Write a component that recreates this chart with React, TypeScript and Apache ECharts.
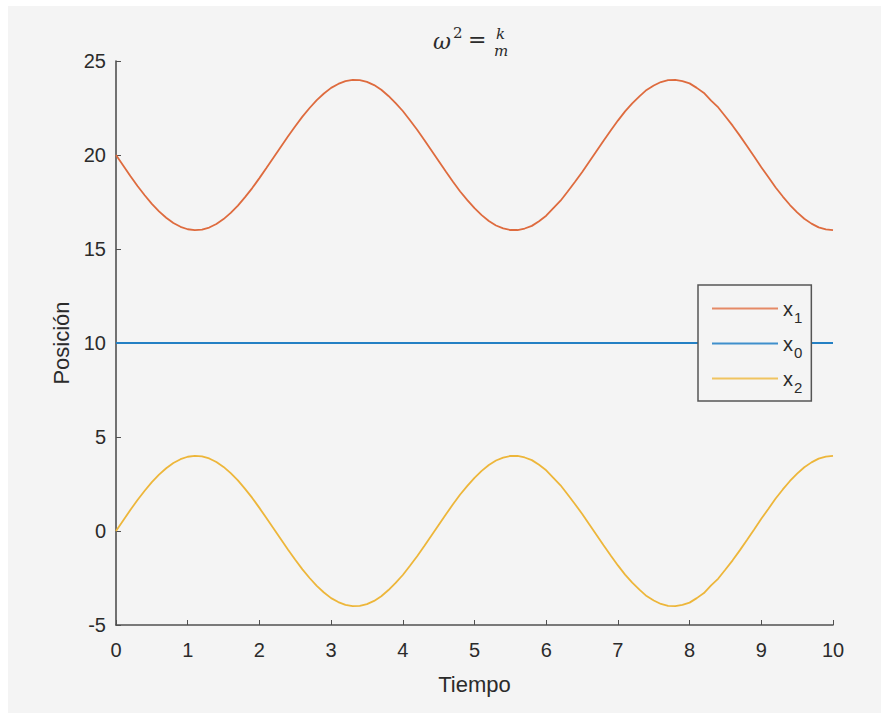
import React, { useEffect, useRef } from "react";
import * as echarts from "echarts";

const time = [
  0, 0.1, 0.2, 0.3, 0.4, 0.5, 0.6, 0.7, 0.8, 0.9,
  1.0, 1.1, 1.2, 1.3, 1.4, 1.5, 1.6, 1.7, 1.8, 1.9,
  2.0, 2.1, 2.2, 2.3, 2.4, 2.5, 2.6, 2.7, 2.8, 2.9,
  3.0, 3.1, 3.2, 3.3, 3.4, 3.5, 3.6, 3.7, 3.8, 3.9,
  4.0, 4.1, 4.2, 4.3, 4.4, 4.5, 4.6, 4.7, 4.8, 4.9,
  5.0, 5.1, 5.2, 5.3, 5.4, 5.5, 5.6, 5.7, 5.8, 5.9,
  6.0, 6.1, 6.2, 6.3, 6.4, 6.5, 6.6, 6.7, 6.8, 6.9,
  7.0, 7.1, 7.2, 7.3, 7.4, 7.5, 7.6, 7.7, 7.8, 7.9,
  8.0, 8.1, 8.2, 8.3, 8.4, 8.5, 8.6, 8.7, 8.8, 8.9,
  9.0, 9.1, 9.2, 9.3, 9.4, 9.5, 9.6, 9.7, 9.8, 9.9,
  10.0,
];

const x2Values = [
  0, 0.56, 1.12, 1.65, 2.14, 2.6, 3.0, 3.34, 3.62, 3.82,
  3.95, 4.0, 3.97, 3.86, 3.67, 3.41, 3.08, 2.69, 2.24, 1.76,
  1.23, 0.68, 0.12, -0.44, -1.0, -1.53, -2.04, -2.5, -2.92, -3.27,
  -3.57, -3.78, -3.93, -4.0, -3.98, -3.89, -3.72, -3.47, -3.14, -2.76,
  -2.34, -1.85, -1.34, -0.8, -0.24, 0.32, 0.88, 1.42, 1.94, 2.4,
  2.83, 3.2, 3.51, 3.75, 3.9, 3.99, 3.99, 3.91, 3.77, 3.52,
  3.23, 2.83, 2.43, 1.94, 1.44, 0.92, 0.36, -0.2, -0.76, -1.3,
  -1.83, -2.32, -2.75, -3.12, -3.46, -3.7, -3.88, -3.98, -4.0, -3.93,
  -3.81, -3.57, -3.3, -2.89, -2.53, -2.05, -1.56, -1.03, -0.48, 0.08,
  0.65, 1.18, 1.73, 2.21, 2.66, 3.05, 3.39, 3.65, 3.85, 3.96,
  4.0,
];

const x1Values = [
  20, 19.44, 18.88, 18.35, 17.86, 17.4, 17.0, 16.66, 16.38, 16.18,
  16.05, 16.0, 16.03, 16.14, 16.33, 16.59, 16.92, 17.31, 17.76, 18.24,
  18.77, 19.32, 19.88, 20.44, 21.0, 21.53, 22.04, 22.5, 22.92, 23.27,
  23.57, 23.78, 23.93, 24.0, 23.98, 23.89, 23.72, 23.47, 23.14, 22.76,
  22.34, 21.85, 21.34, 20.8, 20.24, 19.68, 19.12, 18.58, 18.06, 17.6,
  17.17, 16.8, 16.49, 16.25, 16.1, 16.01, 16.01, 16.09, 16.23, 16.48,
  16.77, 17.17, 17.57, 18.06, 18.56, 19.08, 19.64, 20.2, 20.76, 21.3,
  21.83, 22.32, 22.75, 23.12, 23.46, 23.7, 23.88, 23.98, 24.0, 23.93,
  23.81, 23.57, 23.3, 22.89, 22.53, 22.05, 21.56, 21.03, 20.48, 19.92,
  19.35, 18.82, 18.27, 17.79, 17.34, 16.95, 16.61, 16.35, 16.15, 16.04,
  16.0,
];

const x0Start = [0, 10];
const x0End = [10, 10];

const xTicks = [0, 1, 2, 3, 4, 5, 6, 7, 8, 9, 10];
const yTicks = [-5, 0, 5, 10, 15, 20, 25];
const legendOrder = ["x1", "x0", "x2"];

const SANS = "'Liberation Sans', Arial, Helvetica, sans-serif";
const SERIF = "'DejaVu Serif', 'Liberation Serif', serif";
const AXIS_COLOR = "#505050";
const TEXT_COLOR = "#2b2b2b";

export default function App() {
  const ref = useRef<HTMLDivElement>(null);

  useEffect(() => {
    if (!ref.current) return;
    const chart = echarts.init(ref.current, undefined, { renderer: "svg" });
    const pairs = (vals: number[]) => time.map((t, i) => [t, vals[i]]);
    const axisCommon = {
      axisLine: { show: true, onZero: false, lineStyle: { color: AXIS_COLOR, width: 1.6 } },
      axisTick: { show: true, inside: true, length: 5, lineStyle: { color: AXIS_COLOR, width: 1 } },
      splitLine: { show: false },
    };
    chart.setOption({
      animation: false,
      backgroundColor: "#f4f4f4",
      grid: { left: 108, right: 48, top: 55, bottom: 88 },
      xAxis: {
        type: "value",
        min: xTicks[0],
        max: xTicks[xTicks.length - 1],
        interval: 1,
        ...axisCommon,
        axisLabel: { color: TEXT_COLOR, fontSize: 20, fontFamily: SANS, margin: 15 },
        name: "Tiempo",
        nameLocation: "middle",
        nameGap: 48,
        nameTextStyle: { color: TEXT_COLOR, fontSize: 22, fontFamily: SANS },
      },
      yAxis: {
        type: "value",
        min: yTicks[0],
        max: yTicks[yTicks.length - 1],
        interval: 5,
        ...axisCommon,
        axisLabel: { color: TEXT_COLOR, fontSize: 20, fontFamily: SANS, margin: 10 },
        name: "Posición",
        nameLocation: "middle",
        nameGap: 44,
        nameTextStyle: { color: TEXT_COLOR, fontSize: 22, fontFamily: SANS },
      },
      legend: {
        data: legendOrder,
        orient: "vertical",
        left: 690,
        top: 279,
        padding: [7, 9, 6, 14],
        itemWidth: 66,
        itemHeight: 2,
        itemGap: 2,
        icon: "rect",
        backgroundColor: "#f4f4f4",
        borderColor: "#555555",
        borderWidth: 1.5,
        borderRadius: 0,
        formatter: (name: string) => `{x|x}{s|${name.slice(1)}}`,
        textStyle: {
          color: TEXT_COLOR,
          fontFamily: SANS,
          rich: {
            x: { fontSize: 20, fontFamily: SANS, color: TEXT_COLOR, lineHeight: 20, verticalAlign: "middle" },
            s: { fontSize: 15, fontFamily: SANS, color: TEXT_COLOR, padding: [18, 0, 0, 1], lineHeight: 15 },
          },
        },
      },
      graphic: [
        { type: "text", left: 425, top: 24, style: { text: "ω", font: `italic 22px ${SERIF}`, fill: TEXT_COLOR } },
        { type: "text", left: 445, top: 19, style: { text: "2", font: `15px ${SERIF}`, fill: TEXT_COLOR } },
        { type: "text", left: 460, top: 22, style: { text: "=", font: `22px ${SERIF}`, fill: TEXT_COLOR } },
        { type: "text", left: 488, top: 20, style: { text: "k", font: `italic 15px ${SERIF}`, fill: TEXT_COLOR } },
        { type: "text", left: 486, top: 37, style: { text: "m", font: `italic 15px ${SERIF}`, fill: TEXT_COLOR } },
      ],
      series: [
        {
          name: "x1",
          type: "line",
          data: pairs(x1Values),
          showSymbol: false,
          lineStyle: { color: "#DE6B3E", width: 1.8 },
          itemStyle: { color: "#E58A66" },
          z: 3,
        },
        {
          name: "x0",
          type: "line",
          data: [x0Start, x0End],
          showSymbol: false,
          lineStyle: { color: "#2480C4", width: 1.8 },
          itemStyle: { color: "#3F8FCC" },
          z: 2,
        },
        {
          name: "x2",
          type: "line",
          data: pairs(x2Values),
          showSymbol: false,
          lineStyle: { color: "#EDB63A", width: 1.8 },
          itemStyle: { color: "#F0C460" },
          z: 3,
        },
      ],
    });
    return () => chart.dispose();
  }, []);

  return (
    <div
      ref={ref}
      style={{ position: "absolute", left: 8, top: 6, width: 873, height: 707 }}
    />
  );
}
